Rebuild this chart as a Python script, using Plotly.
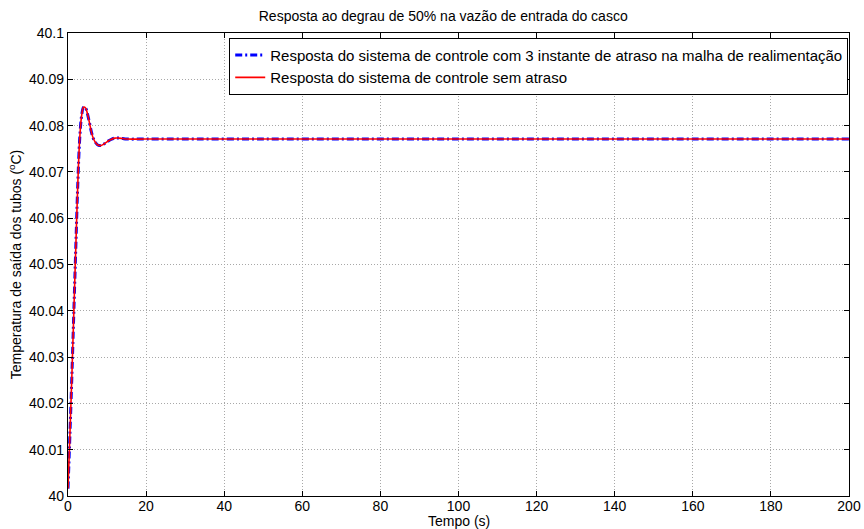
import plotly.graph_objects as go

# Time samples (s)
t_values = [0, 0.5, 1.0, 1.5, 2.0, 2.5, 3.0, 3.5, 4.0, 4.5, 5.0, 5.5, 6.0, 6.5, 7.0,
            7.5, 8.0, 8.5, 9.0, 10, 11, 12, 13, 14, 15, 20, 50, 100, 150, 200]

# Response with 3-sample delay in feedback loop
y_delay = [40.0016, 40.0135, 40.0262, 40.0400, 40.0538, 40.0672, 40.0772, 40.0822,
           40.0840, 40.0838, 40.0825, 40.0806, 40.0786, 40.0772, 40.0764, 40.0759,
           40.0757, 40.0757, 40.0759, 40.0765, 40.0770, 40.0773, 40.0773, 40.0772,
           40.0771, 40.0771, 40.0771, 40.0771, 40.0771, 40.0771]

# Response without delay
y_nodelay = [40.0016, 40.0135, 40.0262, 40.0400, 40.0538, 40.0672, 40.0772, 40.0822,
             40.0840, 40.0838, 40.0825, 40.0806, 40.0786, 40.0772, 40.0764, 40.0759,
             40.0757, 40.0757, 40.0759, 40.0765, 40.0770, 40.0773, 40.0773, 40.0772,
             40.0771, 40.0771, 40.0771, 40.0771, 40.0771, 40.0771]

x_ticks = [0, 20, 40, 60, 80, 100, 120, 140, 160, 180, 200]
y_ticks = [40, 40.01, 40.02, 40.03, 40.04, 40.05, 40.06, 40.07, 40.08, 40.09, 40.1]
y_tick_labels = ["40", "40.01", "40.02", "40.03", "40.04", "40.05", "40.06",
                 "40.07", "40.08", "40.09", "40.1"]

font_family = "Liberation Sans, Arial, sans-serif"

fig = go.Figure()
fig.add_trace(go.Scatter(
    x=t_values, y=y_delay, mode="lines", line_shape="spline",
    name="Resposta do sistema de controle com 3 instante de atraso na malha de realimentação",
    line=dict(color="#0000ff", width=3, dash="7px,3px,2px,3px"),
))
fig.add_trace(go.Scatter(
    x=t_values, y=y_nodelay, mode="lines", line_shape="spline",
    name="Resposta do sistema de controle sem atraso",
    line=dict(color="#ff0000", width=1.6),
))

axis_common = dict(
    showline=True, linecolor="black", linewidth=1.3, mirror="ticks",
    ticks="inside", ticklen=5, tickcolor="black", tickwidth=1,
    showgrid=True, gridcolor="#a8a8a8", griddash="1px,2px", gridwidth=1,
    zeroline=False, automargin=False,
    tickfont=dict(family=font_family, size=14, color="black"),
)

fig.update_layout(
    width=864, height=529,
    margin=dict(l=68, r=15, t=33, b=33),
    paper_bgcolor="white", plot_bgcolor="white",
    font=dict(family=font_family, size=14, color="black"),
    title=dict(text="Resposta ao degrau de 50% na vazão de entrada do casco",
               x=0.513, xanchor="center", y=0.97, yanchor="middle",
               font=dict(family=font_family, size=14, color="black")),
    xaxis=dict(range=[0, 200], tickvals=x_ticks, ticklabelstandoff=-3,
               **axis_common),
    yaxis=dict(range=[40, 40.1], tickvals=y_ticks, ticktext=y_tick_labels,
               title=dict(text="Temperatura de saída dos tubos (<sup>o</sup>C)", standoff=4,
                          font=dict(family=font_family, size=14)),
               **axis_common),
    legend=dict(x=0.999, xanchor="right", y=0.99, yanchor="top",
                bgcolor="white", bordercolor="black", borderwidth=1,
                font=dict(family=font_family, size=15, color="black"),
                tracegroupgap=0, itemwidth=30),
    showlegend=True,
    annotations=[dict(text="Tempo (s)", xref="paper", yref="paper",
                      x=0.5, xanchor="center", y=0, yanchor="bottom",
                      yshift=-35, showarrow=False,
                      font=dict(family=font_family, size=14, color="black"))],
)

fig.write_html("out.html")
